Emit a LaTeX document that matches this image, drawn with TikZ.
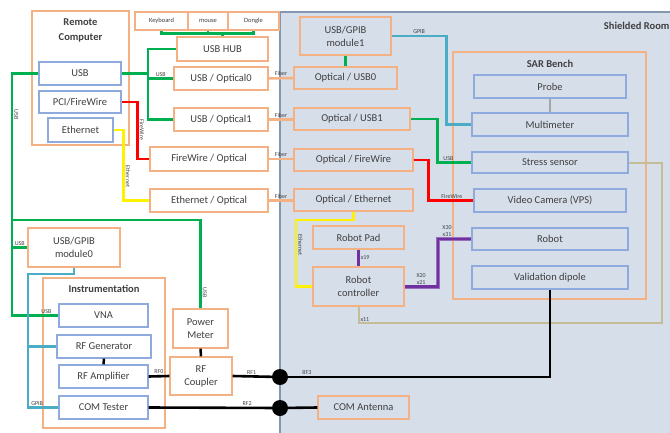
\documentclass[tikz,border=0pt]{standalone}
\usepackage{fontspec}
\setmainfont{Carlito}
\usepackage{tikz}
\usetikzlibrary{positioning}
\definecolor{box_orange}{HTML}{F4B183}
\definecolor{box_blue}{HTML}{8FAADC}
\definecolor{room_fill}{HTML}{D6DEEA}
\definecolor{room_line}{HTML}{8497B0}
\definecolor{usb_green}{HTML}{00B050}
\definecolor{gpib_blue}{HTML}{4BACC6}
\definecolor{x_purple}{HTML}{7030A0}
\definecolor{x_tan}{HTML}{C4BD97}
\definecolor{txt_gray}{HTML}{404040}
\tikzset{my_box/.style={rectangle, draw=box_orange, line width=1.2pt, inner sep=0pt, align=center, text=txt_gray, font=\fontsize{10.5}{13}\selectfont}}
\tikzset{my_out_box/.style={my_box, fill=white}}
\tikzset{my_blue_box/.style={my_box, draw=box_blue, fill=white}}
\tikzset{my_in_box/.style={my_box, draw=box_blue}}
\tikzset{my_title/.style={font=\bfseries\fontsize{10.5}{15}\selectfont, text=txt_gray, align=center}}
\tikzset{my_tag/.style={font=\fontsize{6}{7}\selectfont, text=txt_gray, inner sep=1pt, align=center}}
\tikzset{my_vtag/.style={my_tag, rotate=-90, anchor=south}}
\tikzset{my_wire/.style={line width=2.5pt}}
\tikzset{my_usb/.style={my_wire, usb_green}}
\tikzset{my_gpib/.style={my_wire, gpib_blue}}
\tikzset{my_fiber/.style={my_wire, box_orange}}
\tikzset{my_rf/.style={line width=2.6pt, black}}

\begin{document}
\begin{tikzpicture}[x=1pt, y=-1pt]
    \useasboundingbox (0,0) rectangle (670,432);
    \clip (0,0) rectangle (670,432);
    %\draw[help lines, step=20] (0,0) grid (670,432);

    % shielded room
    \draw[fill=room_fill, draw=room_line, line width=1.5pt] (280,12) rectangle (690,450);
    \node[my_title, anchor=east] (room_title) at (673,26) {Shielded Room};
    \node[my_box, minimum width=193pt, minimum height=247pt] (sar) at (549.5,175.5) {};
    \node[my_title] (sar_title) at (550,64) {SAR Bench};

    % remote computer side
    \node[my_out_box, minimum width=97pt, minimum height=134pt] (rc) at (80.5,78) {};
    \node[my_title] (rc_title) at (80.5,30) {Remote\\Computer};
    \node[my_blue_box, minimum width=82pt, minimum height=23pt] (rc_usb) at (80,73.5) {USB};
    \node[my_blue_box, minimum width=82pt, minimum height=22pt] (rc_fw) at (80,102) {PCI/FireWire};
    \node[my_blue_box, minimum width=65pt, minimum height=24pt] (rc_eth) at (80.5,130) {Ethernet};

    \node[my_out_box, minimum width=53pt, minimum height=18pt, font=\fontsize{6.5}{7}\selectfont] (kbd) at (161.5,21) {Keyboard};
    \node[my_out_box, minimum width=40pt, minimum height=18pt, font=\fontsize{6.5}{7}\selectfont] (mouse) at (208,21) {mouse};
    \node[my_out_box, minimum width=51pt, minimum height=18pt, font=\fontsize{6.5}{7}\selectfont] (dongle) at (253.5,21) {Dongle};
    \node[my_out_box, minimum width=91pt, minimum height=24pt] (hub) at (222.5,49) {USB HUB};
    \node[my_out_box, minimum width=94pt, minimum height=23pt] (uo0) at (221,78.5) {USB / Optical0};
    \node[my_out_box, minimum width=94pt, minimum height=23pt] (uo1) at (221,119.5) {USB / Optical1};
    \node[my_out_box, minimum width=118pt, minimum height=24pt] (fo) at (209,159) {FireWire / Optical};
    \node[my_out_box, minimum width=118pt, minimum height=23pt] (eo) at (209,200.5) {Ethernet / Optical};

    % instrumentation
    \node[my_out_box, minimum width=92pt, minimum height=39pt] (mod0) at (74,247.5) {USB/GPIB\\module0};
    \node[my_out_box, minimum width=122pt, minimum height=150pt] (instr) at (104,353) {};
    \node[my_title] (instr_title) at (104,289) {Instrumentation};
    \node[my_blue_box, minimum width=89pt, minimum height=23pt] (vna) at (103.5,315.5) {VNA};
    \node[my_blue_box, minimum width=94pt, minimum height=23pt] (rfgen) at (104,346.5) {RF Generator};
    \node[my_blue_box, minimum width=89pt, minimum height=23pt] (rfamp) at (103.5,376.5) {RF Amplifier};
    \node[my_blue_box, minimum width=89pt, minimum height=23pt] (comt) at (103.5,407.5) {COM Tester};
    \node[my_out_box, minimum width=55pt, minimum height=39pt] (pm) at (200.5,328.5) {Power\\Meter};
    \node[my_out_box, minimum width=62pt, minimum height=38pt] (coupler) at (201,376) {RF\\Coupler};

    % inside the room
    \node[my_box, minimum width=91pt, minimum height=38pt] (mod1) at (345.5,36) {USB/GPIB\\module1};
    \node[my_box, minimum width=103pt, minimum height=22pt] (ou0) at (345.5,78) {Optical / USB0};
    \node[my_box, minimum width=116pt, minimum height=22pt] (ou1) at (352,119) {Optical / USB1};
    \node[my_box, minimum width=119pt, minimum height=22pt] (of) at (353.5,160) {Optical / FireWire};
    \node[my_box, minimum width=119pt, minimum height=22pt] (oe) at (353.5,200) {Optical / Ethernet};
    \node[my_box, minimum width=91pt, minimum height=23pt] (pad) at (358.5,237.5) {Robot Pad};
    \node[my_box, minimum width=91pt, minimum height=39pt] (ctrl) at (358.5,286.5) {Robot\\controller};
    \node[my_box, minimum width=91pt, minimum height=23pt] (comant) at (363.5,407.5) {COM Antenna};

    \node[my_in_box, minimum width=152pt, minimum height=23pt] (probe) at (550,86.5) {Probe};
    \node[my_in_box, minimum width=156pt, minimum height=23pt] (mm) at (550,124.5) {Multimeter};
    \node[my_in_box, minimum width=156pt, minimum height=21pt] (stress) at (550,162.5) {Stress sensor};
    \node[my_in_box, minimum width=152pt, minimum height=23pt] (cam) at (550,200.5) {Video Camera (VPS)};
    \node[my_in_box, minimum width=156pt, minimum height=22pt] (robot) at (550,239) {Robot};
    \node[my_in_box, minimum width=156pt, minimum height=23pt] (dipole) at (550,277.5) {Validation dipole};

    \coordinate (usbsplit) at (148,73.5);
    \coordinate (usbcorner) at (12,220);
    \coordinate (gpibcorner) at (28,274);
    \coordinate (ethbend) at (296,220);
    \coordinate (tancorner) at (662,323);
    \coordinate (d1) at (280,377);
    \coordinate (d2) at (280,408);

    % usb
    \draw[my_usb] (kbd.south) -- ++(0,3) -| (dongle.south);
    \draw[my_usb] (mouse.south) -- ++(0,3);
    \draw[my_usb] (hub.north) -- ++(0,-4);
    \draw[my_usb] (rc_usb.east) -- (usbsplit);
    \draw[my_usb] (hub.west) -| (usbsplit) |- (uo1.west);
    \draw[my_usb] (usbsplit |- uo0.west) -- node[my_tag, above] (t_usb0) {USB} (uo0.west);
    \draw[my_usb] (rc_usb.west) -| node[my_vtag, pos=0.64] (t_usb1) {USB} (usbcorner)
        -| node[my_vtag, pos=0.91] (t_usb2) {USB} (pm.north);
    \draw[my_usb] (usbcorner) |- node[my_tag, above, pos=0.87] (t_usb3) {USB} (vna.west);
    \draw[my_usb] (usbcorner |- mod0.west) -- node[my_tag, above] (t_usb4) {USB} (mod0.west);
    \draw[my_usb] (mod1.south) -- (ou0.north);
    \draw[my_usb] (ou1.east) -- ++(27,0) |- node[my_tag, above, pos=0.66] (t_usb5) {USB} (stress.west);

    % firewire / ethernet
    \draw[my_wire, red] (rc_fw.east) -- ++(16,0) |- node[my_vtag, pos=0.245] (t_fw0) {FireWire} (fo.west);
    \draw[my_wire, red] (of.east) -- ++(15,0) |- node[my_tag, above, pos=0.76] (t_fw1) {FireWire} (cam.west);
    \draw[my_wire, yellow] (rc_eth.east) -- ++(10,0) |- node[my_vtag, pos=0.33] (t_eth0) {Ethernet} (eo.west);
    \draw[my_wire, yellow] (oe.south) |- (ethbend) |- node[my_vtag, pos=0.19] (t_eth1) {Ethernet} (ctrl.west);

    % fiber
    \draw[my_fiber] (uo0.east) -- node[my_tag, above] (t_fib0) {Fiber} (ou0.west);
    \draw[my_fiber] (uo1.east) -- node[my_tag, above] (t_fib1) {Fiber} (uo1.east -| ou1.west);
    \draw[my_fiber] (fo.east) -- node[my_tag, above] (t_fib2) {Fiber} (fo.east -| of.west);
    \draw[my_fiber] (eo.east) -- node[my_tag, above] (t_fib3) {Fiber} (eo.east -| oe.west);

    % gpib
    \draw[my_gpib] (mod0.south) |- (gpibcorner) |- node[my_tag, above, pos=0.65] (t_gpib0) {GPIB} (comt.west);
    \draw[my_gpib] (gpibcorner |- rfgen.west) -- (rfgen.west);
    \draw[my_gpib] (mod1.east) -- node[my_tag, above] (t_gpib1) {GPIB} ++(55,0) |- (mm.west);

    % robot
    \draw[line width=2.5pt, x_purple] (pad.south) -- node[my_tag, right] (t_x19) {x19} (ctrl.north);
    \draw[line width=4pt, x_purple!70] (ctrl.east) -- ++(33,0) |- (robot.west);
    \draw[line width=2.2pt, x_purple] (ctrl.east) -- node[my_tag, above] (t_x20) {X20\\x21} ++(33,0)
        |- node[my_tag, above, pos=0.64] (t_x30) {X30\\x31} (robot.west);
    \draw[line width=2pt, x_tan] (ctrl.south) |- node[my_tag, anchor=west, pos=0.4] (t_x11) {x11} (tancorner) |- (stress.east);
    \draw[line width=2pt, black!35] (probe.south) -- (mm.north);

    % rf
    \draw[line width=2.5pt] (rfgen.south) -- (rfamp.north);
    \draw[line width=2.5pt] (pm.south) -- (coupler.north);
    \draw[my_rf] (rfamp.east) -- node[my_tag, above] (t_rf0) {RF0} (coupler.west);
    \draw[my_rf] (coupler.east) -- node[my_tag, above, pos=0.4] (t_rf1) {RF1} (d1);
    \draw[my_rf] (comt.east) -- node[my_tag, above, pos=0.75] (t_rf2) {RF2} (d2);
    \draw[my_rf] (d1) -| node[my_tag, above, pos=0.05] (t_rf3) {RF3} (dipole.south);
    \draw[my_rf] (d2) -- (comant.west);
    \fill (d1) circle (8pt);
    \fill (d2) circle (8pt);
\end{tikzpicture}
\end{document}
